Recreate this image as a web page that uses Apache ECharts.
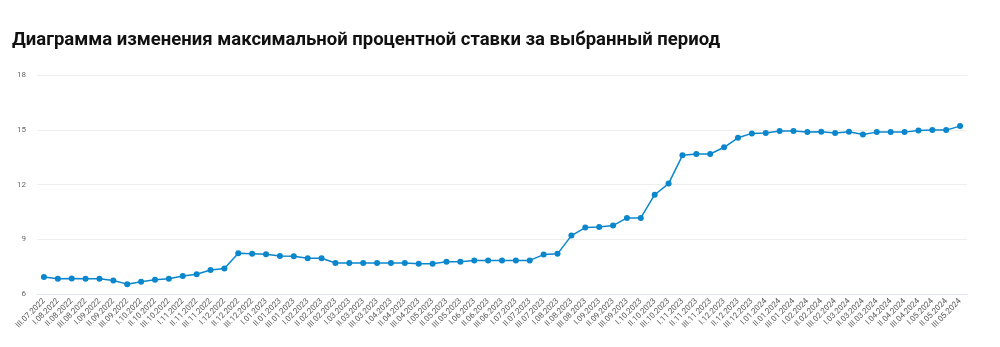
<!DOCTYPE html>
<html>
<head>
<meta charset="utf-8">
<script src="https://cdn.jsdelivr.net/npm/echarts@6/dist/echarts.min.js"></script>
<style>
  html, body { margin: 0; padding: 0; background: #fff; }
  #chart { width: 1000px; height: 347px; }
</style>
</head>
<body>
<div id="chart"></div>
<script>
// Ten-day periods (декады) from III.07.2022 to III.05.2024
const decades = ['I', 'II', 'III'];
const months = [
  '08.2022', '09.2022', '10.2022', '11.2022', '12.2022',
  '01.2023', '02.2023', '03.2023', '04.2023', '05.2023', '06.2023',
  '07.2023', '08.2023', '09.2023', '10.2023', '11.2023', '12.2023',
  '01.2024', '02.2024', '03.2024', '04.2024', '05.2024'
];
const categories = ['III.07.2022'];
months.forEach(m => decades.forEach(d => categories.push(d + '.' + m)));

// Maximum interest rate, %
const maxRate = [
  6.93, 6.84, 6.85, 6.84, 6.84, 6.74, 6.54, 6.67, 6.78, 6.84,
  6.99, 7.08, 7.32, 7.40, 8.23, 8.21, 8.18, 8.08, 8.07, 7.96,
  7.96, 7.70, 7.70, 7.70, 7.70, 7.70, 7.70, 7.66, 7.66, 7.77,
  7.77, 7.84, 7.84, 7.84, 7.84, 7.84, 8.16, 8.20, 9.20, 9.64,
  9.67, 9.75, 10.17, 10.17, 11.44, 12.05, 13.60, 13.67, 13.67, 14.04,
  14.56, 14.80, 14.82, 14.93, 14.93, 14.87, 14.89, 14.82, 14.89, 14.74,
  14.87, 14.87, 14.87, 14.96, 14.98, 14.98, 15.20
];

const yTicks = { min: 6, max: 18, interval: 3 };

const chart = echarts.init(document.getElementById('chart'));
chart.setOption({
  animation: false,
  title: {
    text: 'Диаграмма изменения максимальной процентной ставки за выбранный период',
    left: 7,
    top: 26,
    textStyle: {
      fontFamily: 'Roboto',
      fontWeight: 'bold',
      fontSize: 18.5,
      color: '#111'
    }
  },
  grid: { left: 37, right: 33, top: 75, bottom: 53 },
  xAxis: {
    type: 'category',
    data: categories,
    boundaryGap: true,
    axisLine: { lineStyle: { color: '#e0e6f1' } },
    axisTick: { show: false },
    axisLabel: {
      interval: 0,
      rotate: 45,
      fontSize: 8,
      fontFamily: 'Roboto',
      color: '#555',
      margin: 6
    }
  },
  yAxis: {
    type: 'value',
    min: yTicks.min,
    max: yTicks.max,
    interval: yTicks.interval,
    axisLabel: { fontSize: 8, fontFamily: 'Roboto', color: '#666', margin: 11 },
    splitLine: { lineStyle: { color: '#eeeeee' } }
  },
  series: [{
    type: 'line',
    data: maxRate,
    symbol: 'circle',
    symbolSize: 6,
    lineStyle: { color: '#0a86cc', width: 1.5 },
    itemStyle: { color: '#0a86cc' }
  }]
});
</script>
</body>
</html>
